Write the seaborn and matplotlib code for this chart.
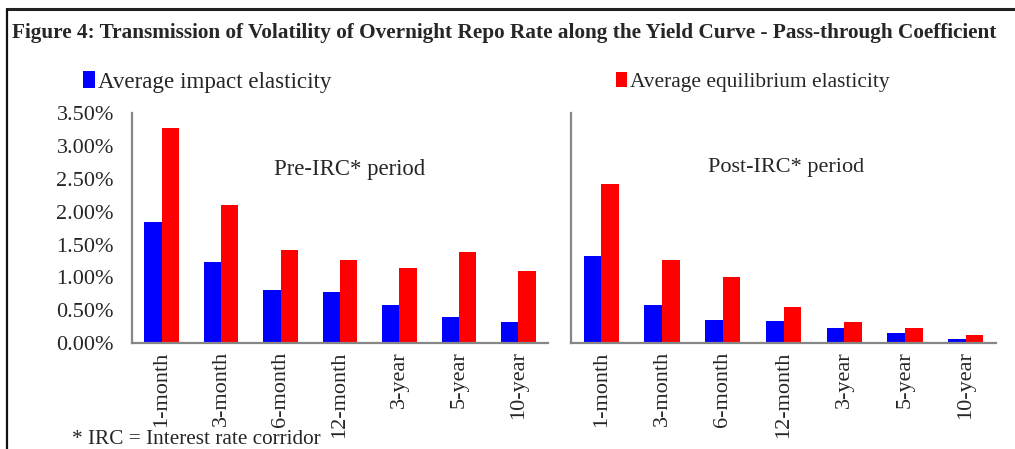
import matplotlib
matplotlib.use("Agg")
import matplotlib.pyplot as plt
from matplotlib.lines import Line2D
import seaborn as sns
import pandas as pd

# tenors on the x axis
tenors = ["1-month", "3-month", "6-month", "12-month", "3-year", "5-year", "10-year"]

# pass-through coefficients in percent
pre_impact = [1.84, 1.24, 0.81, 0.78, 0.58, 0.40, 0.32]
pre_equilibrium = [3.27, 2.10, 1.41, 1.26, 1.15, 1.38, 1.10]
post_impact = [1.32, 0.58, 0.35, 0.33, 0.23, 0.15, 0.06]
post_equilibrium = [2.42, 1.26, 1.01, 0.55, 0.32, 0.23, 0.12]

series_names = ["Average impact elasticity", "Average equilibrium elasticity"]
yticks = [0, 0.5, 1.0, 1.5, 2.0, 2.5, 3.0, 3.5]


def long_frame(impact, equilibrium):
    return pd.DataFrame({
        "tenor": tenors * 2,
        "series": [series_names[0]] * len(tenors) + [series_names[1]] * len(tenors),
        "value": list(impact) + list(equilibrium),
    })


sns.set_style("white")
plt.rcParams["font.family"] = ["Liberation Serif", "DejaVu Serif"]

palette = {series_names[0]: "#0000FF", series_names[1]: "#FF0000"}
spine_col = "#868686"

fig = plt.figure(figsize=(10.15, 4.49), dpi=100)
ax1 = fig.add_axes([0.130, 0.236, 0.410, 0.512])
ax2 = fig.add_axes([0.5626, 0.236, 0.4187, 0.512])

for ax, df in [(ax1, long_frame(pre_impact, pre_equilibrium)),
               (ax2, long_frame(post_impact, post_equilibrium))]:
    sns.barplot(data=df, x="tenor", y="value", hue="series", palette=palette,
                width=0.58, ax=ax, edgecolor="none", saturation=1)
    ax.set_ylim(0, 3.5)
    ax.set_xlim(-0.5, 6.5)
    ax.set_yticks(yticks)
    ax.set_xlabel("")
    ax.set_ylabel("")
    ax.tick_params(axis="x", length=0, pad=6, labelsize=16, rotation=90)
    ax.tick_params(axis="y", length=0, pad=13, labelsize=16)
    for s in ["top", "right"]:
        ax.spines[s].set_visible(False)
    for s in ["left", "bottom"]:
        ax.spines[s].set_color(spine_col)
        ax.spines[s].set_linewidth(1.6)
    ax.get_legend().remove()

ax1.set_yticklabels([f"{v:.2f}%" for v in yticks])
ax2.set_yticklabels([])

ax1.text(0.523, 0.755, "Pre-IRC* period", transform=ax1.transAxes,
         ha="center", va="center", fontsize=16.4)
ax2.text(0.505, 0.765, "Post-IRC* period", transform=ax2.transAxes,
         ha="center", va="center", fontsize=16)

handles, labels = ax1.get_legend_handles_labels()
leg_kw = dict(frameon=False, handlelength=0.5, handleheight=0.7,
              handletextpad=0.15, borderaxespad=0, borderpad=0)
fig.legend([handles[0]], [labels[0]], loc="center left", fontsize=16.6,
           bbox_to_anchor=(0.082, 1 - 82 / 449), **leg_kw)
fig.legend([handles[1]], [labels[1]], loc="center left", fontsize=15.4,
           bbox_to_anchor=(0.607, 1 - 82 / 449), **leg_kw)

fig.text(12 / 1015, 1 - 33 / 449,
         "Figure 4: Transmission of Volatility of Overnight Repo Rate along the Yield Curve - Pass-through Coefficient",
         ha="left", va="center", fontsize=15.3, fontweight="bold")

fig.text(72 / 1015, 1 - 440 / 449, "* IRC = Interest rate corridor",
         ha="left", va="center", fontsize=15.3)

# outer frame (top and left edges visible in the crop)
fig.add_artist(Line2D([7 / 1015, 1.0], [1 - 9 / 449, 1 - 9 / 449],
                      transform=fig.transFigure, color="#222222", lw=2.2))
fig.add_artist(Line2D([7 / 1015, 7 / 1015], [0.0, 1 - 9 / 449],
                      transform=fig.transFigure, color="#111111", lw=1.6))

fig.savefig("out.png", dpi=100)
